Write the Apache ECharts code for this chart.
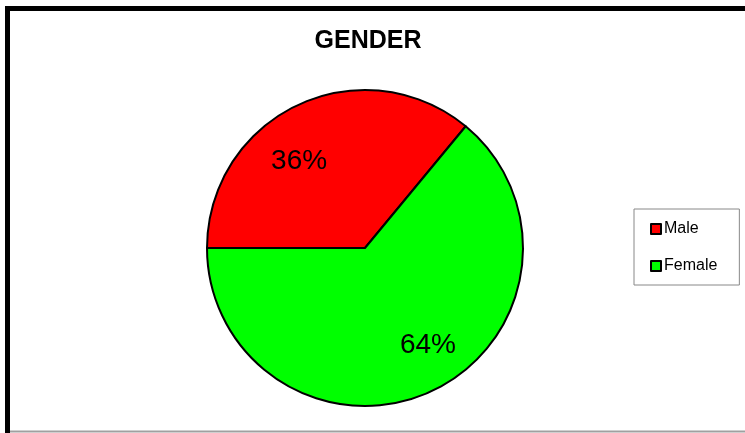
<!DOCTYPE html>
<html>
<head>
<meta charset="utf-8">
<script src="https://cdn.jsdelivr.net/npm/echarts@6/dist/echarts.min.js"></script>
<style>
html,body{margin:0;padding:0;background:#fff;}
#c{width:745px;height:433px;}
</style>
</head>
<body>
<div id="c"></div>
<script>
var title = 'GENDER';
var categories = ['Male', 'Female'];
var values = [36, 64];
var colors = ['#FF0000', '#00FF00'];
var labelOffsets = [[-31, -13], [28, 23]];

var chart = echarts.init(document.getElementById('c'), null, {renderer: 'canvas'});
var data = categories.map(function (name, i) {
  return {
    name: name,
    value: values[i],
    itemStyle: {color: colors[i]},
    label: {offset: labelOffsets[i]}
  };
});
chart.setOption({
  animation: false,
  backgroundColor: '#fff',
  title: {
    text: title,
    left: 363,
    textAlign: 'center',
    top: 24,
    textStyle: {fontFamily: 'Liberation Sans, Arial, sans-serif', fontWeight: 'bold', fontSize: 25, color: '#000'}
  },
  legend: {
    orient: 'vertical',
    left: 634,
    top: 209,
    padding: [12, 22, 11, 16],
    borderColor: '#888',
    borderWidth: 1,
    itemWidth: 10,
    itemHeight: 10,
    itemGap: 21,
    icon: 'rect',
    data: categories,
    textStyle: {fontFamily: 'Liberation Sans, Arial, sans-serif', fontSize: 16, color: '#000', padding: [0, 0, 0, -2]},
    itemStyle: {borderColor: '#000', borderWidth: 2}
  },
  graphic: [
    {type: 'rect', silent: true, z: 100, shape: {x: 7.5, y: 8.5, width: 800, height: 600}, style: {fill: null, stroke: '#000', lineWidth: 5}},
    {type: 'line', silent: true, z: 100, shape: {x1: 10, y1: 431.5, x2: 745, y2: 431.5}, style: {stroke: '#a0a0a0', lineWidth: 2}}
  ],
  series: [{
    type: 'pie',
    center: [365, 248],
    radius: 158,
    startAngle: 180,
    clockwise: true,
    data: data,
    itemStyle: {borderColor: '#000', borderWidth: 2},
    label: {
      show: true,
      position: 'inside',
      formatter: '{c}%',
      fontFamily: 'Liberation Sans, Arial, sans-serif',
      fontSize: 28,
      color: '#000'
    },
    labelLine: {show: false},
    emphasis: {disabled: true}
  }]
});
</script>
</body>
</html>
